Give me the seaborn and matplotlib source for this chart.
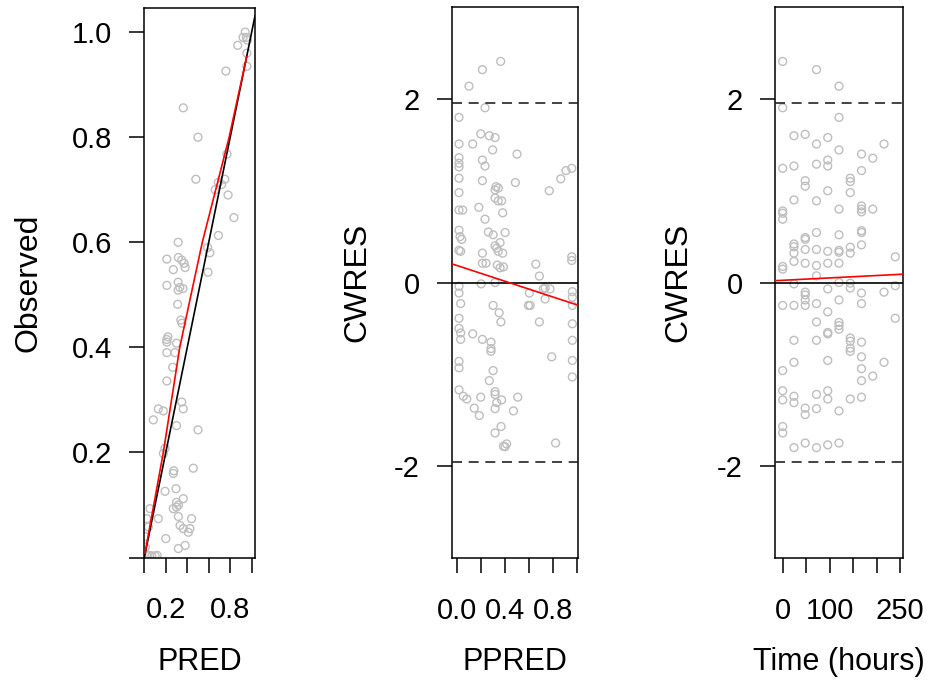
import numpy as np
import pandas as pd
import matplotlib
matplotlib.use("Agg")
import matplotlib.pyplot as plt
import seaborn as sns

# panel 1: observed vs population prediction
pred = [0.94, 0.92, 0.87, 0.95, 0.96, 0.955, 0.955, 0.76, 0.363, 0.50, 0.77, 0.48, 0.75, 0.69,
        0.66, 0.72, 0.78, 0.835, 0.69, 0.315, 0.61, 0.59, 0.21, 0.317, 0.348, 0.37, 0.38, 0.27,
        0.593, 0.21, 0.315, 0.33, 0.36, 0.315, 0.31, 0.35, 0.34, 0.21, 0.22, 0.21, 0.30, 0.285,
        0.21, 0.264, 0.21, 0.348, 0.363, 0.13, 0.177, 0.084, 0.30, 0.50, 0.177, 0.193, 0.456,
        0.27, 0.275, 0.193, 0.295, 0.363, 0.30, 0.317, 0.27, 0.30, 0.053, 0.13, 0.022, 0.037,
        0.44, 0.317, 0.333, 0.363, 0.425, 0.41, 0.20, 0.317, 0.38, 0.05, 0.07, 0.12, 0.10,
        0.01, 0.02, 0.005]
obs = [1.00, 0.99, 0.975, 0.99, 0.985, 0.935, 0.96, 0.926, 0.856, 0.80, 0.768, 0.72, 0.72, 0.714,
       0.70, 0.71, 0.69, 0.647, 0.613, 0.60, 0.58, 0.59, 0.568, 0.571, 0.566, 0.56, 0.552, 0.548,
       0.543, 0.518, 0.524, 0.514, 0.512, 0.509, 0.482, 0.446, 0.452, 0.415, 0.42, 0.41, 0.408, 0.39,
       0.39, 0.362, 0.336, 0.296, 0.283, 0.283, 0.279, 0.262, 0.251, 0.243, 0.198, 0.208, 0.17,
       0.16, 0.165, 0.126, 0.131, 0.112, 0.105, 0.10, 0.093, 0.096, 0.093, 0.074, 0.074, 0.058,
       0.074, 0.078, 0.061, 0.055, 0.055, 0.048, 0.036, 0.017, 0.023, 0.004, 0.003, 0.004, 0.003,
       0.02, 0.005, 0.04]
smooth_pred = [0.006, 0.177, 0.33, 0.54, 0.79, 0.953]
smooth_obs = [0.008, 0.20, 0.40, 0.60, 0.80, 0.953]

# panel 2: CWRES vs PPRED
ppred = [0.363, 0.21, 0.098, 0.232, 0.014, 0.196, 0.268, 0.316, 0.014, 0.129, 0.296, 0.50, 0.014,
         0.014, 0.014, 0.21, 0.232, 0.958, 0.91, 0.866, 0.014, 0.21, 0.486, 0.324, 0.343, 0.316,
         0.77, 0.014, 0.316, 0.343, 0.371, 0.014, 0.045, 0.18, 0.38, 0.232, 0.014, 0.023, 0.037,
         0.26, 0.30, 0.40, 0.316, 0.33, 0.358, 0.343, 0.38, 0.014, 0.028, 0.21, 0.21, 0.24, 0.335,
         0.358, 0.386, 0.657, 0.687, 0.958, 0.958, 0.014, 0.014, 0.20, 0.316, 0.603, 0.735, 0.776,
         0.963, 0.963, 0.72, 0.735, 0.963, 0.028, 0.30, 0.35, 0.365, 0.595, 0.61, 0.687, 0.963,
         0.014, 0.014, 0.028, 0.028, 0.129, 0.21, 0.282, 0.282, 0.282, 0.963, 0.79, 0.014, 0.014,
         0.963, 0.963, 0.30, 0.268, 0.014, 0.05, 0.079, 0.196, 0.316, 0.316, 0.33, 0.371, 0.316,
         0.506, 0.47, 0.142, 0.184, 0.366, 0.316, 0.386, 0.413, 0.40, 0.823]
cwres_ppred = [2.41, 2.32, 2.14, 1.905, 1.80, 1.62, 1.60, 1.58, 1.51, 1.51, 1.445, 1.40, 1.36,
               1.30, 1.26, 1.335, 1.27, 1.245, 1.22, 1.13, 1.137, 1.11, 1.09, 1.045, 1.03, 1.01,
               1.0, 0.98, 0.92, 0.89, 0.89, 0.79, 0.79, 0.82, 0.76, 0.69, 0.57, 0.50, 0.47,
               0.55, 0.52, 0.545, 0.40, 0.375, 0.435, 0.34, 0.32, 0.35, 0.34, 0.32, 0.21, 0.21, 0.19,
               0.16, 0.17, 0.20, 0.07, 0.28, 0.24, -0.04, -0.115, -0.015, 0.0, -0.115, -0.06, -0.07,
               -0.10, -0.16, -0.07, -0.18, -0.25, -0.23, -0.25, -0.33, -0.43, -0.25, -0.25, -0.43, -0.45,
               -0.39, -0.50, -0.55, -0.62, -0.56, -0.62, -0.65, -0.72, -0.75, -0.63, -0.81, -0.86, -0.93,
               -0.85, -1.03, -0.96, -1.07, -1.17, -1.24, -1.27, -1.25, -1.19, -1.22, -1.31, -1.28, -1.375,
               -1.25, -1.40, -1.37, -1.45, -1.57, -1.64, -1.785, -1.76, -1.79, -1.75]
fit_ppred = (0.184, -0.427)  # intercept, slope

# panel 3: CWRES vs time
time_h = [0, 72, 120, 0, 120, 24, 48, 72, 96, 120, 216, 168, 192, 0, 24, 72, 96, 96, 168, 48,
          48, 144, 144, 144, 96, 24, 72, 120, 0, 0, 0, 168, 168, 168, 192, 72, 120, 168, 168,
          48, 48, 24, 24, 48, 72, 96, 120, 120, 144, 144, 168, 24, 24, 48, 72, 96, 120, 240,
          0, 0, 72, 24, 120, 144, 144, 48, 48, 96, 168, 216, 240, 48, 120, 0, 24, 48, 72, 168,
          96, 240, 72, 120, 120, 120, 96, 96, 24, 72, 144, 144, 144, 144, 168, 168, 24, 96, 216,
          0, 168, 192, 168, 0, 0, 24, 24, 72, 96, 96, 144, 168, 48, 48, 72, 120, 0, 0, 24, 48,
          72, 96, 120]
cwres_time = [2.41, 2.32, 2.14, 1.905, 1.80, 1.60, 1.615, 1.51, 1.58, 1.445, 1.51, 1.40, 1.355,
              1.245, 1.27, 1.29, 1.335, 1.27, 1.22, 1.11, 1.05, 1.137, 1.10, 0.98, 1.0, 0.9, 0.89,
              0.80, 0.78, 0.755, 0.69, 0.835, 0.80, 0.77, 0.80, 0.545, 0.52, 0.565, 0.545, 0.49,
              0.47, 0.42, 0.39, 0.36, 0.36, 0.34, 0.35, 0.33, 0.385, 0.32, 0.41, 0.32, 0.23, 0.21,
              0.185, 0.21, 0.21, 0.28, 0.175, 0.146, 0.073, -0.015, 0.0, -0.007, -0.06, -0.105,
              -0.135, -0.07, -0.115, -0.105, -0.035, -0.19, -0.19, -0.25, -0.25, -0.25, -0.23, -0.23,
              -0.32, -0.39, -0.43, -0.435, -0.47, -0.51, -0.545, -0.56, -0.63, -0.63, -0.605, -0.64,
              -0.715, -0.75, -0.65, -0.81, -0.87, -0.85, -0.87, -0.96, -0.94, -1.02, -1.07, -1.18,
              -1.28, -1.24, -1.31, -1.22, -1.18, -1.27, -1.27, -1.25, -1.37, -1.44, -1.375, -1.40,
              -1.57, -1.64, -1.80, -1.75, -1.80, -1.77, -1.75]
fit_time = (0.024, 0.00026)

sns.set_style("ticks")
plt.rcParams['font.family'] = ['Liberation Sans', 'DejaVu Sans']
plt.rcParams['axes.linewidth'] = 1.1
for k in ['text.color', 'axes.labelcolor', 'xtick.color', 'ytick.color', 'axes.edgecolor']:
    plt.rcParams[k] = 'black'

W, H = 927, 681
fig = plt.figure(figsize=(W / 100, H / 100), dpi=100)


def make_ax(left, right, top, bottom):
    return fig.add_axes([left / W, 1 - bottom / H, (right - left) / W, (bottom - top) / H])


ax1 = make_ax(144, 255, 8, 557.5)
ax2 = make_ax(451.7, 578.3, 7.3, 557.7)
ax3 = make_ax(775, 902.7, 7.3, 557.7)

grey = "#bebebe"
pt = dict(facecolor="none", edgecolor=grey, s=32, linewidth=1.0, marker="o", zorder=2)

# panel 1
sns.scatterplot(x=pred, y=obs, ax=ax1, **pt)
ax1.axline((0, 0), slope=1, color="black", lw=1.2, zorder=3)
sns.lineplot(x=smooth_pred, y=smooth_obs, ax=ax1, color="red", lw=1.2, sort=False,
             estimator=None, zorder=4)
ax1.set_xlim(-0.003, 1.031)
ax1.set_ylim(0, 1.046)
ax1.set_xticks([0, 0.2, 0.4, 0.6, 0.8, 1.0])
ax1.set_xticklabels(["", "0.2", "", "", "0.8", ""])
ax1.set_yticks([0, 0.2, 0.4, 0.6, 0.8, 1.0])
ax1.set_yticklabels(["", "0.2", "0.4", "0.6", "0.8", "1.0"])

# panel 2
sns.scatterplot(x=ppred, y=cwres_ppred, ax=ax2, **pt)
ax2.set_xlim(-0.047, 1.013)
ax2.set_xticks([0, 0.2, 0.4, 0.6, 0.8, 1.0])
ax2.set_xticklabels(["0.0", "", "0.4", "", "0.8", ""])

# panel 3
sns.scatterplot(x=time_h, y=cwres_time, ax=ax3, **pt)
ax3.set_xlim(-16.4, 255.8)
ax3.set_xticks([0, 50, 100, 150, 200, 250])
ax3.set_xticklabels(["0", "", "100", "", "", "250"])

for ax, fit in [(ax2, fit_ppred), (ax3, fit_time)]:
    ax.axhline(0, color="black", lw=1.2, zorder=3)
    ax.axhline(1.96, color="#222222", lw=1.2, ls=(0, (6, 4)), zorder=3)
    ax.axhline(-1.96, color="#222222", lw=1.2, ls=(0, (6, 4)), zorder=3)
    ax.axline((0, fit[0]), slope=fit[1], color="red", lw=1.2, zorder=4)
    ax.set_ylim(-3, 3)
    ax.set_yticks([-2, 0, 2])
    ax.set_yticklabels(["-2", "0", "2"])

labels = [(ax1, "PRED", "Observed", -1.045), (ax2, "PPRED", "CWRES", -0.748),
          (ax3, "Time (hours)", "CWRES", -0.76)]
for ax, xl, yl, yx in labels:
    for s in ax.spines.values():
        s.set_visible(True)
        s.set_color("black")
    ax.tick_params(direction="out", length=11, width=1.1, colors="black",
                   labelsize=21, pad=12)
    ax.tick_params(axis="x", pad=17)
    ax.set_xlabel(xl, fontsize=22, va="center")
    ax.xaxis.set_label_coords(0.5, -0.19)
    ax.set_ylabel(yl, fontsize=23, va="center")
    ax.yaxis.set_label_coords(yx, 0.5)
    ax.set_facecolor("white")

fig.savefig("out.png", dpi=100, facecolor="white")
